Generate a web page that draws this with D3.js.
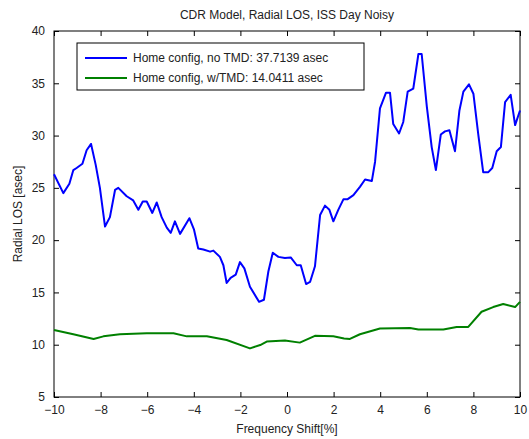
<!DOCTYPE html>
<html><head><meta charset="utf-8">
<script src="https://cdn.jsdelivr.net/npm/d3@7"></script>
<style>body{margin:0;background:#fff}svg{display:block}text{font-family:Arial,"Liberation Sans",sans-serif;fill:#222}</style>
</head><body><svg id="c" width="529" height="439"></svg>
<script>
const title = "CDR Model, Radial LOS, ISS Day Noisy";
const xLabel = "Frequency Shift[%]";
const yLabel = "Radial LOS [asec]";
const seriesNames = ["Home config, no TMD: 37.7139 asec", "Home config, w/TMD: 14.0411 asec"];
const seriesColors = ["#0000ff", "#008000"];
const xTicks = [-10,-8,-6,-4,-2,0,2,4,6,8,10];
const yTicks = [5,10,15,20,25,30,35,40];

const xNoTMD = [-10,-9.6,-9.34,-9.17,-9.03,-8.78,-8.6,-8.41,-8.21,-8.03,-7.81,-7.6,-7.38,-7.24,-6.88,-6.6,-6.38,-6.19,-6.02,-5.78,-5.59,-5.38,-5.16,-4.99,-4.81,-4.59,-4.19,-3.99,-3.81,-3.59,-3.3,-3.16,-2.88,-2.73,-2.59,-2.42,-2.2,-2.02,-1.83,-1.59,-1.2,-0.99,-0.8,-0.61,-0.37,-0.09,0.16,0.42,0.59,0.82,0.99,1.2,1.42,1.63,1.82,1.99,2.2,2.42,2.59,2.85,3.13,3.35,3.64,3.78,3.99,4.25,4.42,4.56,4.81,4.99,5.18,5.42,5.64,5.78,6.0,6.21,6.39,6.6,6.78,6.97,7.21,7.4,7.57,7.81,8.0,8.21,8.42,8.64,8.81,9.0,9.18,9.36,9.6,9.79,10];
const yNoTMD = [26.3,24.5,25.4,26.7,26.9,27.3,28.6,29.2,27.2,25.0,21.3,22.2,24.8,25.0,24.2,23.8,22.9,23.7,23.7,22.6,23.6,22.2,21.2,20.7,21.8,20.6,22.1,21.0,19.2,19.1,18.9,19.0,18.4,17.6,15.9,16.4,16.7,17.9,17.3,15.55,14.1,14.3,17.0,18.8,18.4,18.3,18.35,17.6,17.6,15.8,16.0,17.5,22.4,23.3,22.9,21.8,22.9,23.9,23.9,24.3,25.1,25.8,25.65,27.5,32.6,34.1,34.1,31.1,30.2,31.3,34.2,34.5,37.8,37.8,32.8,28.9,26.7,30.1,30.4,30.5,28.5,32.4,34.2,34.9,34.0,30.1,26.5,26.5,26.9,28.5,28.9,33.2,33.9,31.0,32.4];

const xWithTMD = [-10,-9.17,-8.3,-7.88,-7.17,-6.02,-4.87,-4.3,-3.44,-2.59,-1.59,-1.15,-0.87,-0.09,0.55,1.2,1.99,2.45,2.7,3.13,3.99,5.28,5.64,6.71,7.28,7.78,8.35,8.85,9.28,9.79,10];
const yWithTMD = [11.4,11.0,10.55,10.8,11.0,11.1,11.1,10.8,10.8,10.45,9.65,9.97,10.3,10.4,10.2,10.85,10.8,10.6,10.55,11.0,11.55,11.6,11.45,11.45,11.7,11.7,13.15,13.6,13.9,13.6,14.1];

const svg = d3.select("#c");
const L = 54, R = 520, T = 31, B = 397;
const x = d3.scaleLinear().domain([-10,10]).range([L,R]);
const y = d3.scaleLinear().domain([5,40]).range([B,T]);

svg.append("text").attr("x", (L+R)/2).attr("y", 19).attr("text-anchor","middle").attr("font-size",12).text(title);

const tl = 5;
const g = svg.append("g");
g.append("g").attr("transform",`translate(0,${B})`).call(d3.axisBottom(x).tickValues(xTicks).tickSizeInner(-tl).tickSizeOuter(0).tickPadding(8).tickFormat(d3.format("d")));
g.append("g").attr("transform",`translate(0,${T})`).call(d3.axisTop(x).tickValues(xTicks).tickSizeInner(-tl).tickSizeOuter(0).tickFormat(""));
g.append("g").attr("transform",`translate(${L},0)`).call(d3.axisLeft(y).tickValues(yTicks).tickSizeInner(-tl).tickSizeOuter(0).tickPadding(9).tickFormat(d3.format("d")));
g.append("g").attr("transform",`translate(${R},0)`).call(d3.axisRight(y).tickValues(yTicks).tickSizeInner(-tl).tickSizeOuter(0).tickFormat(""));
g.selectAll(".domain").remove();
g.selectAll(".tick line").attr("stroke","#000");
g.selectAll(".tick text").attr("font-size",12).attr("fill","#222").attr("font-family","Arial, 'Liberation Sans', sans-serif");

svg.append("rect").attr("x",L).attr("y",T).attr("width",R-L).attr("height",B-T).attr("fill","none").attr("stroke","#000").attr("stroke-width",1);

const line = d3.line().x(d=>x(d[0])).y(d=>y(d[1]));
const data = [d3.zip(xNoTMD,yNoTMD), d3.zip(xWithTMD,yWithTMD)];
data.forEach((d,i)=>{
  svg.append("path").datum(d).attr("d",line).attr("fill","none").attr("stroke",seriesColors[i]).attr("stroke-width",2).attr("stroke-linejoin","round");
});

svg.append("text").attr("x",L+(R-L)/2).attr("y",433).attr("text-anchor","middle").attr("font-size",12).text(xLabel);
svg.append("text").attr("transform",`translate(22,${(T+B)/2}) rotate(-90)`).attr("text-anchor","middle").attr("font-size",12).text(yLabel);

const lg = svg.append("g");
lg.append("rect").attr("x",77).attr("y",43).attr("width",287).attr("height",47).attr("fill","#fff").attr("stroke","#000").attr("stroke-width",1);
seriesNames.forEach((n,i)=>{
  const yy = 58 + i*20;
  lg.append("line").attr("x1",85).attr("x2",127).attr("y1",yy).attr("y2",yy).attr("stroke",seriesColors[i]).attr("stroke-width",2);
  lg.append("text").attr("x",133).attr("y",yy+4).attr("font-size",12).text(n);
});
</script></body></html>
